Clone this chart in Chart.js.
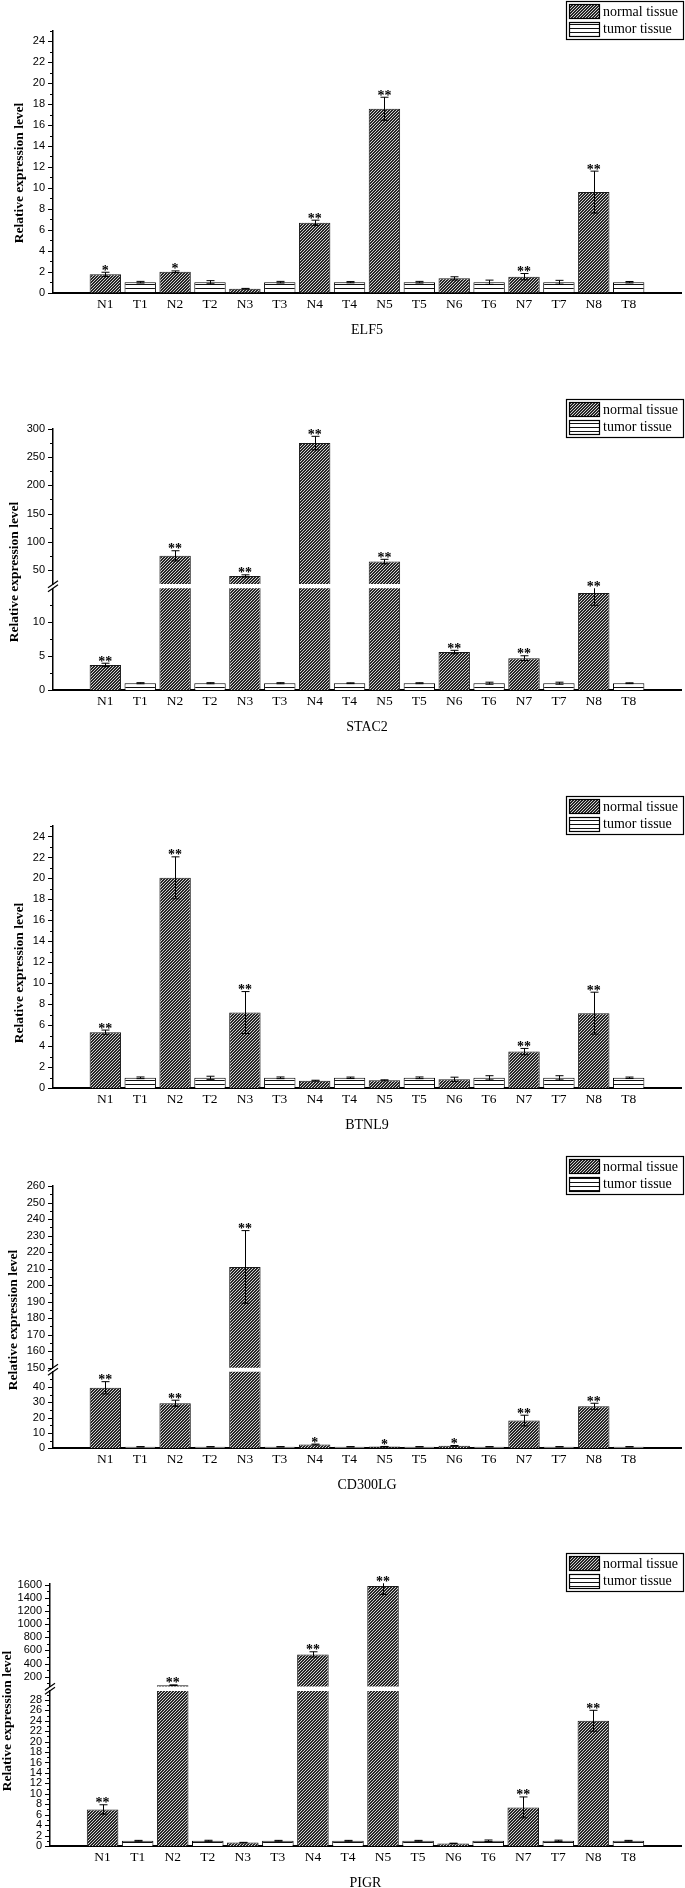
<!DOCTYPE html>
<html>
<head>
<meta charset="utf-8">
<script src="https://cdn.jsdelivr.net/npm/chart.js@4.4.1/dist/chart.umd.min.js"></script>
<style>
html, body { margin: 0; padding: 0; background: #fff; }
#page { position: relative; width: 685px; height: 1888px; overflow: hidden; background: #fff; }
#page canvas { position: absolute; left: 0; }
</style>
</head>
<body>
<div id="page"></div>
<script>
// Shared labels
const categories = ['N1', 'T1', 'N2', 'T2', 'N3', 'T3', 'N4', 'T4', 'N5', 'T5', 'N6', 'T6', 'N7', 'T7', 'N8', 'T8'];
const legendLabels = ['normal tissue', 'tumor tissue'];
const yTitle = 'Relative expression level';

// ELF5
const elf5Values = [1.75, 1.0, 2.0, 1.0, 0.38, 1.0, 6.67, 1.0, 17.55, 1.0, 1.37, 1.0, 1.53, 1.0, 9.6, 1.0];
const elf5Errors = [0.2, 0.08, 0.08, 0.15, 0.03, 0.08, 0.25, 0.06, 1.1, 0.08, 0.15, 0.2, 0.3, 0.18, 2.0, 0.07];
const elf5Marks = ['*', '', '*', '', '', '', '**', '', '**', '', '', '', '**', '', '**', ''];
const elf5Ticks = [0, 2, 4, 6, 8, 10, 12, 14, 16, 18, 20, 22, 24];

// STAC2
const stac2Values = [3.7, 1.0, 75, 1.0, 39.3, 1.0, 275, 1.0, 64.8, 1.0, 5.6, 1.0, 4.7, 1.0, 14.3, 1.0];
const stac2Errors = [0.25, 0.08, 9, 0.08, 2, 0.08, 12, 0.06, 4, 0.07, 0.25, 0.15, 0.35, 0.15, 1.8, 0.06];
const stac2Marks = ['**', '', '**', '', '**', '', '**', '', '**', '', '**', '', '**', '', '**', ''];
const stac2LowTicks = [0, 5, 10];
const stac2HighTicks = [50, 100, 150, 200, 250, 300];

// BTNL9
const btnl9Values = [5.35, 1.0, 20.06, 1.0, 7.22, 1.0, 0.73, 1.0, 0.76, 1.0, 0.86, 1.0, 3.5, 1.0, 7.16, 1.0];
const btnl9Errors = [0.2, 0.08, 2.0, 0.15, 2.0, 0.08, 0.04, 0.07, 0.05, 0.08, 0.2, 0.2, 0.3, 0.2, 2.0, 0.07];
const btnl9Marks = ['**', '', '**', '', '**', '', '', '', '', '', '', '', '**', '', '**', ''];
const btnl9Ticks = [0, 2, 4, 6, 8, 10, 12, 14, 16, 18, 20, 22, 24];

// CD300LG
const cd300lgValues = [39.5, 1.0, 29.4, 1.0, 211, 1.0, 2.45, 1.0, 1.1, 1.0, 1.6, 1.0, 18.1, 1.0, 27.4, 1.0];
const cd300lgErrors = [4, 0.1, 2, 0.1, 22, 0.1, 0.3, 0.1, 0.1, 0.1, 0.2, 0.1, 3.5, 0.1, 2, 0.1];
const cd300lgMarks = ['**', '', '**', '', '**', '', '*', '', '*', '', '*', '', '**', '', '**', ''];
const cd300lgLowTicks = [0, 10, 20, 30, 40];
const cd300lgHighTicks = [150, 160, 170, 180, 190, 200, 210, 220, 230, 240, 250, 260];

// PIGR
const pigrValues = [7.0, 1.0, 70, 1.0, 0.65, 1.0, 540, 1.0, 1585, 1.0, 0.5, 1.0, 7.4, 1.0, 24, 1.0];
const pigrErrors = [0.9, 0.08, 5, 0.1, 0.05, 0.08, 40, 0.08, 130, 0.08, 0.04, 0.15, 2, 0.12, 2, 0.08];
const pigrMarks = ['**', '', '**', '', '', '', '**', '', '**', '', '', '', '**', '', '**', ''];
const pigrLowTicks = [0, 2, 4, 6, 8, 10, 12, 14, 16, 18, 20, 22, 24, 26, 28];
const pigrHighTicks = [200, 400, 600, 800, 1000, 1200, 1400, 1600];

const serif = '"Liberation Serif", "Times New Roman", serif';
const sans = '"Liberation Sans", Arial, sans-serif';

// Page layout (pixels). segments[0] is the bottom part of the axis.
const panels = [
    { gene: 'ELF5', values: elf5Values, errors: elf5Errors, marks: elf5Marks,
      top: 0, bottom: 339, axisX: 53, titleX: 20, titleY: 173,
      segments: [{ ticks: elf5Ticks, min: 0, max: 25, top: 30.7, bottom: 292.7 }] },
    { gene: 'STAC2', values: stac2Values, errors: stac2Errors, marks: stac2Marks,
      top: 339, bottom: 736, axisX: 53, titleX: 15, titleY: 572,
      segments: [{ ticks: stac2LowTicks, min: 0, max: 15, top: 588.3, bottom: 690 },
                 { ticks: stac2HighTicks, min: 25, max: 300, top: 429, bottom: 584 }] },
    { gene: 'BTNL9', values: btnl9Values, errors: btnl9Errors, marks: btnl9Marks,
      top: 736, bottom: 1134, axisX: 53, titleX: 20, titleY: 973,
      segments: [{ ticks: btnl9Ticks, min: 0, max: 25, top: 826, bottom: 1088.3 }] },
    { gene: 'CD300LG', values: cd300lgValues, errors: cd300lgErrors, marks: cd300lgMarks,
      top: 1134, bottom: 1494, axisX: 53, titleX: 14, titleY: 1320,
      segments: [{ ticks: cd300lgLowTicks, min: 0, max: 50, top: 1371.7, bottom: 1448.3 },
                 { ticks: cd300lgHighTicks, min: 150, max: 260, top: 1186, bottom: 1367.7 }] },
    { gene: 'PIGR', values: pigrValues, errors: pigrErrors, marks: pigrMarks,
      top: 1494, bottom: 1892, axisX: 50, titleX: 8, titleY: 1721,
      segments: [{ ticks: pigrLowTicks, min: 0, max: 29.7, top: 1691, bottom: 1846 },
                 { ticks: pigrHighTicks, min: 50, max: 1625, top: 1583.3, bottom: 1686.5 }] }
];

// Fill patterns
function makeHatch() {
    const c = document.createElement('canvas');
    c.width = 3; c.height = 3;
    const g = c.getContext('2d');
    g.fillStyle = '#262626';
    g.fillRect(0, 0, 3, 3);
    g.fillStyle = '#d2d2d2';
    g.fillRect(0, 2, 1, 1);
    g.fillRect(1, 1, 1, 1);
    g.fillRect(2, 0, 1, 1);
    return g.createPattern(c, 'repeat');
}

function makeStripes() {
    const c = document.createElement('canvas');
    c.width = 4; c.height = 4;
    const g = c.getContext('2d');
    g.fillStyle = '#fff';
    g.fillRect(0, 0, 4, 4);
    g.fillStyle = '#111';
    g.fillRect(0, 0, 4, 1);
    return g.createPattern(c, 'repeat');
}

const hatch = makeHatch();
const stripes = makeStripes();

function line(ctx, x1, y1, x2, y2) {
    ctx.beginPath();
    ctx.moveTo(x1, y1);
    ctx.lineTo(x2, y2);
    ctx.stroke();
}

// which axis part carries the bar top (for the asterisks)
function ownSegment(panel, v) {
    let k = 0;
    panel.segments.forEach((s, j) => { if (v > s.min) k = j; });
    return k;
}

function extrasPlugin(panel, segIndex) {
    const seg = panel.segments[segIndex];
    const broken = panel.segments.length > 1;
    const isMain = segIndex === 0;
    return {
        id: 'extras',
        afterDatasetsDraw(chart) {
            const ctx = chart.ctx;
            const area = chart.chartArea;
            const x = chart.scales.x, y = chart.scales.y;

            // error bars
            ctx.save();
            ctx.beginPath();
            ctx.rect(area.left, area.top, area.right - area.left, area.bottom - area.top);
            ctx.clip();
            ctx.strokeStyle = '#000';
            ctx.lineWidth = 1;
            panel.values.forEach((v, i) => {
                const e = panel.errors[i];
                const px = Math.round(x.getPixelForValue(i + 1)) + 0.5;
                const hi = y.getPixelForValue(v + e);
                const lo = y.getPixelForValue(v - e);
                line(ctx, px, hi, px, lo);
                line(ctx, px - 4, hi, px + 4, hi);
                line(ctx, px - 4, lo, px + 4, lo);
            });
            ctx.restore();

            // significance marks
            ctx.save();
            ctx.fillStyle = '#000';
            ctx.font = 'bold 14px ' + serif;
            ctx.textAlign = 'center';
            ctx.textBaseline = 'alphabetic';
            panel.values.forEach((v, i) => {
                if (!panel.marks[i] || ownSegment(panel, v) !== segIndex) return;
                const px = x.getPixelForValue(i + 1);
                const top = Math.max(y.getPixelForValue(v + panel.errors[i]), area.top);
                ctx.fillText(panel.marks[i], px, top + 2.5);
            });
            ctx.restore();
        },
        afterDraw(chart) {
            const ctx = chart.ctx;
            const area = chart.chartArea;
            const y = chart.scales.y;
            const ax = area.left;

            // major and minor ticks
            ctx.save();
            ctx.strokeStyle = '#000';
            ctx.lineWidth = 1;
            const majors = seg.ticks;
            const step = (majors[1] - majors[0]) / 2;
            for (let k = Math.ceil(seg.min / step - 1e-6); k * step <= seg.max + 1e-6; k++) {
                const v = k * step;
                const major = majors.some(m => Math.abs(m - v) < 1e-6);
                const edge = (segIndex > 0 && Math.abs(v - seg.min) < 1e-6) ||
                             (segIndex < panel.segments.length - 1 && Math.abs(v - seg.max) < 1e-6);
                if (broken && edge && !major) continue;
                const py = Math.round(y.getPixelForValue(v)) + 0.5;
                line(ctx, ax - (major ? 5 : 3), py, ax, py);
            }
            ctx.restore();

            if (!isMain) return;

            // axis break marks
            ctx.save();
            ctx.strokeStyle = '#000';
            ctx.lineWidth = 1.2;
            for (let j = 1; j < panel.segments.length; j++) {
                const yc = (panel.segments[j].bottom + panel.segments[j - 1].top) / 2 - panel.top;
                [-2, 2].forEach(d => line(ctx, ax - 5, yc + d + 3.5, ax + 5, yc + d - 3.5));
            }
            ctx.restore();

            // legend box
            const topSeg = panel.segments[panel.segments.length - 1];
            const lt = Math.round(topSeg.top - 30 - panel.top);
            ctx.save();
            ctx.strokeStyle = '#000';
            ctx.lineWidth = 1.2;
            ctx.fillStyle = '#fff';
            ctx.fillRect(566, lt, 118, 38);
            ctx.strokeRect(566.5, lt + 0.5, 117, 38);
            ctx.fillStyle = hatch;
            ctx.fillRect(569, lt + 3, 31, 15);
            ctx.strokeRect(569.5, lt + 3.5, 30, 14);
            ctx.fillStyle = stripes;
            ctx.fillRect(569, lt + 21, 31, 15);
            ctx.strokeRect(569.5, lt + 21.5, 30, 14);
            ctx.fillStyle = '#000';
            ctx.font = '14px ' + serif;
            ctx.textAlign = 'left';
            ctx.textBaseline = 'middle';
            ctx.fillText(legendLabels[0], 603, lt + 11);
            ctx.fillText(legendLabels[1], 603, lt + 28.5);
            ctx.restore();

            // y axis title
            ctx.save();
            ctx.translate(panel.titleX, panel.titleY - panel.top);
            ctx.rotate(-Math.PI / 2);
            ctx.fillStyle = '#000';
            ctx.font = 'bold 13.5px ' + serif;
            ctx.textAlign = 'center';
            ctx.textBaseline = 'middle';
            ctx.fillText(yTitle, 0, 0);
            ctx.restore();
        }
    };
}

function makeChart(panel, segIndex) {
    const seg = panel.segments[segIndex];
    const isMain = segIndex === 0;
    const h = panel.bottom - panel.top;
    const canvas = document.createElement('canvas');
    canvas.width = 685;
    canvas.height = h;
    canvas.style.top = panel.top + 'px';
    canvas.style.width = '685px';
    canvas.style.height = h + 'px';
    document.getElementById('page').appendChild(canvas);

    const normal = [null, ...panel.values.map((v, i) => i % 2 === 0 ? v : null), null];
    const tumor = [null, ...panel.values.map((v, i) => i % 2 === 1 ? v : null), null];

    const xAxis = {
        display: isMain,
        offset: true,
        grid: { display: false, drawTicks: false },
        border: { display: true, color: '#000', width: 2 },
        ticks: { font: { family: serif, size: 13.5 }, color: '#000', padding: 3.5, autoSkip: false, maxRotation: 0 },
        title: { display: true, text: panel.gene, color: '#000',
                 font: { family: serif, size: 14, lineHeight: 1.2 }, padding: { top: 0, bottom: 0.3 } }
    };
    if (isMain) {
        xAxis.afterFit = (scale) => { scale.height = panel.bottom - seg.bottom; };
    }

    new Chart(canvas, {
        type: 'bar',
        data: {
            labels: ['', ...categories, ''],
            datasets: [
                { label: legendLabels[0], data: normal, backgroundColor: hatch, borderColor: '#1a1a1a',
                  borderWidth: 1, grouped: false, barPercentage: 0.9, categoryPercentage: 1, clip: 0 },
                { label: legendLabels[1], data: tumor, backgroundColor: stripes, borderColor: '#000',
                  borderWidth: 1, grouped: false, barPercentage: 0.9, categoryPercentage: 1, clip: 0 }
            ]
        },
        options: {
            responsive: false,
            animation: false,
            devicePixelRatio: 1,
            layout: {
                padding: {
                    top: seg.top - panel.top,
                    right: 4,
                    left: 0,
                    bottom: isMain ? 0 : panel.bottom - seg.bottom
                }
            },
            plugins: {
                legend: { display: false },
                tooltip: { enabled: false }
            },
            scales: {
                x: xAxis,
                y: {
                    min: seg.min,
                    max: seg.max,
                    grid: { display: false, drawTicks: false },
                    border: { display: true, color: '#000', width: 1.5 },
                    afterBuildTicks: (scale) => { scale.ticks = seg.ticks.map(v => ({ value: v })); },
                    afterFit: (scale) => { scale.width = panel.axisX; },
                    ticks: { font: { family: sans, size: 11 }, color: '#000', padding: 8, autoSkip: false,
                             callback: (v) => String(v) }
                }
            }
        },
        plugins: [extrasPlugin(panel, segIndex)]
    });
}

panels.forEach(panel => {
    for (let j = panel.segments.length - 1; j >= 0; j--) {
        makeChart(panel, j);
    }
});
</script>
</body>
</html>
